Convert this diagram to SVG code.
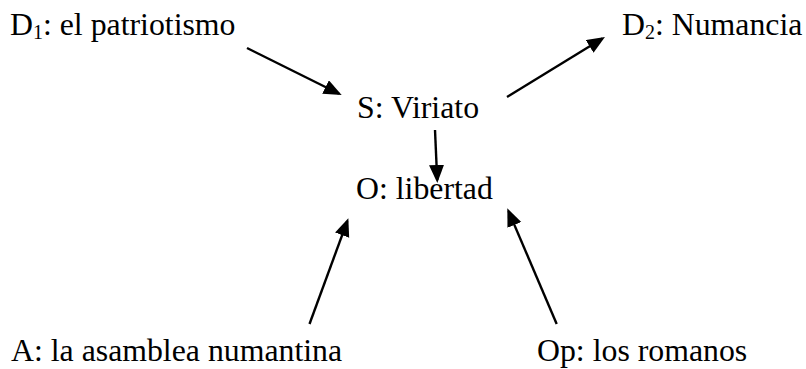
<svg xmlns="http://www.w3.org/2000/svg" width="806" height="369" viewBox="0 0 806 369">
<style>
text{font-family:"Liberation Serif","Times New Roman",serif;font-size:31.8px;fill:#000}
.sub{font-size:20px}
.c line{stroke:#000;stroke-width:2.4;fill:none;marker-end:url(#ah)}
</style>
<defs>
<marker id="ah" markerUnits="userSpaceOnUse" markerWidth="19" markerHeight="16" refX="15" refY="7.5" orient="auto" viewBox="0 0 19 16">
<path d="M0,0 L18,7.5 L0,15 z" fill="#000"/>
</marker>
</defs>
<rect width="806" height="369" fill="#fff"/>
<g id="d1"><text x="10" y="35">D<tspan class="sub" dy="4">1</tspan><tspan dy="-4">: el patriotismo</tspan></text></g>
<g id="d2"><text x="622" y="35">D<tspan class="sub" dy="4">2</tspan><tspan dy="-4">: Numancia</tspan></text></g>
<g id="s"><text x="357" y="118">S: Viriato</text></g>
<g id="o"><text x="356" y="199">O: libertad</text></g>
<g id="a"><text x="11" y="361">A: la asamblea numantina</text></g>
<g id="op"><text x="537" y="361">Op: los romanos</text></g>
<g class="c" id="connectors">
<line x1="247" y1="48" x2="339" y2="93.7"/>
<line x1="507" y1="97" x2="602.4" y2="38.6"/>
<line x1="435" y1="130" x2="437.2" y2="180"/>
<line x1="309.5" y1="324" x2="347.3" y2="221.1"/>
<line x1="556.7" y1="324" x2="508.5" y2="211.1"/>
</g>
</svg>
